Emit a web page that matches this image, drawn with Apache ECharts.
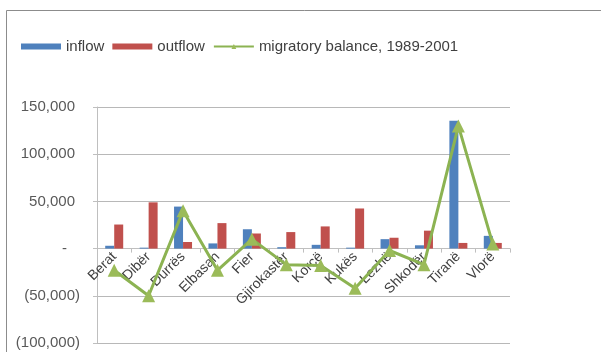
<!DOCTYPE html>
<html>
<head>
<meta charset="utf-8">
<script src="https://cdn.jsdelivr.net/npm/echarts@6/dist/echarts.min.js"></script>
<style>
  html, body { margin: 0; padding: 0; background: #fff; }
  #chart { width: 601px; height: 352px; }
</style>
</head>
<body>
<div id="chart"></div>
<script>
// Albanian districts: internal migration 1989-2001
const categories = ['Berat', 'Dibër', 'Durrës', 'Elbasan', 'Fier', 'Gjirokastër', 'Korçë', 'Kukës', 'Lezhë', 'Shkodër', 'Tiranë', 'Vlorë'];
const inflow = [3000, 1000, 44500, 5500, 20500, 1500, 4000, 1000, 10000, 3500, 135500, 13500];
const outflow = [25500, 49000, 7000, 27000, 16000, 17500, 23500, 42500, 11500, 19000, 6000, 6000];
const balance = [-23000, -50000, 40000, -23000, 10000, -17000, -18000, -42000, -2000, -17000, 130000, 5000];
const yTicks = { min: -100000, max: 150000, step: 50000 };

// Accounting-style number format: parentheses for negatives, dash for zero
function accounting(v) {
  if (v === 0) return '{z|-}';
  const s = Math.abs(v).toLocaleString('en-US');
  return v < 0 ? '{n|(' + s + ')}' : '{p|' + s + '}';
}

const W = 601, H = 352;
const gridBox = { left: 97, right: 91, top: 107, bottom: 9 };
const plotH = H - gridBox.top - gridBox.bottom;
// lift the category axis from the bottom edge up to the zero line
const zeroLift = plotH * (0 - yTicks.min) / (yTicks.max - yTicks.min);

const chart = echarts.init(document.getElementById('chart'));
const font = '"Liberation Sans", Arial, sans-serif';
const fs = 15;

chart.setOption({
  animation: false,
  backgroundColor: '#ffffff',
  textStyle: { fontFamily: font },
  graphic: [{
    type: 'rect',
    shape: { x: 6.5, y: 10.5, width: 700, height: 400 },
    style: { fill: 'none', stroke: '#8c8c8c', lineWidth: 1 },
    silent: true
  }],
  legend: {
    left: 16,
    top: 34,
    itemWidth: 40,
    itemHeight: 6,
    itemGap: 8,
    textStyle: { color: '#404040', fontSize: fs, fontFamily: font },
    data: [
      { name: 'inflow', icon: 'rect' },
      { name: 'outflow', icon: 'rect' },
      { name: 'migratory balance, 1989-2001' }
    ]
  },
  grid: Object.assign({ containLabel: false, outerBoundsMode: 'none' }, gridBox),
  xAxis: {
    type: 'category',
    data: categories,
    position: 'bottom',
    offset: -zeroLift,
    axisLine: { onZero: false, lineStyle: { color: '#bfbfbf', width: 1 } },
    axisTick: { show: true, length: 4, lineStyle: { color: '#bfbfbf' } },
    axisLabel: {
      rotate: 45,
      margin: 6,
      interval: 0,
      color: '#404040',
      fontSize: fs - 1,
      fontFamily: font
    },
    z: 1
  },
  yAxis: {
    type: 'value',
    min: yTicks.min,
    max: yTicks.max,
    interval: yTicks.step,
    axisLine: { show: true, lineStyle: { color: '#bfbfbf' } },
    axisTick: { show: true, length: 4, lineStyle: { color: '#bfbfbf' } },
    splitLine: { show: true, lineStyle: { color: '#b8b8b8', width: 1 } },
    axisLabel: {
      margin: 17,
      color: '#595959',
      fontSize: fs,
      fontFamily: font,
      formatter: accounting,
      rich: {
        p: { fontSize: fs, color: '#595959', padding: [0, 5, 0, 0], fontFamily: font },
        n: { fontSize: fs, color: '#595959', fontFamily: font },
        z: { fontSize: fs, color: '#595959', padding: [0, 13, 0, 0], fontFamily: font }
      }
    }
  },
  series: [
    {
      name: 'inflow',
      type: 'bar',
      data: inflow,
      barWidth: 9,
      barGap: '0%',
      itemStyle: { color: '#4f81bd' }
    },
    {
      name: 'outflow',
      type: 'bar',
      data: outflow,
      barWidth: 9,
      barGap: '0%',
      itemStyle: { color: '#c0504d' }
    },
    {
      name: 'migratory balance, 1989-2001',
      type: 'line',
      data: balance,
      symbol: 'triangle',
      symbolSize: 13,
      lineStyle: { color: '#8cb352', width: 3 },
      itemStyle: { color: '#9bbb59' },
      z: 5
    }
  ]
});
</script>
</body>
</html>
